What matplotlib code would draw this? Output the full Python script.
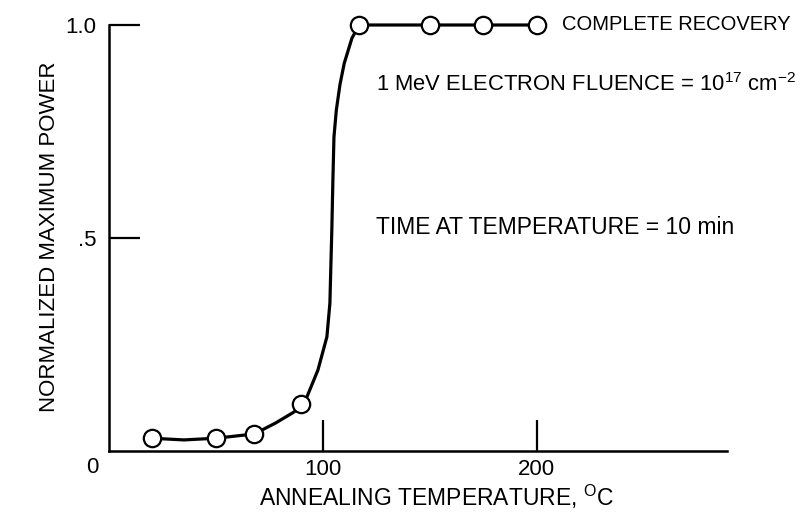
import matplotlib
matplotlib.use('Agg')
import matplotlib.pyplot as plt

# annealing temperature (C) and normalized max power
temps = [20, 50, 68, 90, 117, 150, 175, 200]
power = [0.03, 0.03, 0.04, 0.11, 1.0, 1.0, 1.0, 1.0]

# hand-drawn fairing curve
curve_t = [20, 35, 50, 68, 78, 86, 91, 97.7, 101.9, 103.3, 103.7, 104.2,
           104.7, 105.2, 106.3, 108.0, 110.0, 113.6, 117, 150, 175, 200]
curve_p = [0.03, 0.026, 0.03, 0.04, 0.066, 0.09, 0.108, 0.19, 0.268, 0.347,
           0.425, 0.519, 0.636, 0.737, 0.80, 0.86, 0.91, 0.969, 1.0, 1.0,
           1.0, 1.0]

xticks = [100, 200]
xtick_labels = ['100', '200']
yticks = [0.5, 1.0]
ytick_labels = ['.5', '1.0']

fam = ['Liberation Sans', 'DejaVu Sans']
plt.rcParams['font.family'] = fam
plt.rcParams['mathtext.fontset'] = 'custom'
plt.rcParams['mathtext.rm'] = 'Liberation Sans'
plt.rcParams['mathtext.it'] = 'Liberation Sans'
plt.rcParams['mathtext.default'] = 'rm'
fs = 16

fig = plt.figure(figsize=(8.03, 5.20), dpi=100)
ax = fig.add_axes([109 / 803, 69 / 520, 618 / 803, 426 / 520])

ax.plot(curve_t, curve_p, color='black', lw=2.3, zorder=2, clip_on=False)
ax.plot(temps, power, 'o', ms=12.5, mfc='white', mec='black', mew=1.6,
        zorder=3, clip_on=False)

ax.set_xlim(0, 289)
ax.set_ylim(0, 1.0)
for s in ['top', 'right']:
    ax.spines[s].set_visible(False)
for s in ['left', 'bottom']:
    ax.spines[s].set_linewidth(1.8)

ax.set_xticks(xticks)
ax.set_xticklabels(xtick_labels)
ax.set_yticks(yticks)
ax.set_yticklabels(ytick_labels)
ax.tick_params(axis='both', direction='in', length=22, width=1.6,
               labelsize=fs)
ax.tick_params(axis='x', pad=6)
ax.tick_params(axis='y', pad=9)

ax.text(-8, -0.038, '0', ha='center', va='center', fontsize=fs)

ax.text(212, 1.0, 'COMPLETE RECOVERY', ha='left', va='center', fontsize=14.5)
ax.text(125, 0.86, r'1 MeV ELECTRON FLUENCE = 10$^{17}$ cm$^{-2}$',
        ha='left', va='center', fontsize=15.8)
ax.text(125, 0.525, 'TIME AT TEMPERATURE = 10 min', ha='left', va='center',
        fontsize=16.5)

fig.text(50 / 803, 1 - 237 / 520, 'NORMALIZED MAXIMUM POWER', rotation=90,
         ha='center', va='center', fontsize=16)
fig.text(437 / 803, 1 - 497 / 520, r'ANNEALING TEMPERATURE, $^{\mathrm{O}}$C',
         ha='center', va='center', fontsize=16.5)

fig.savefig('out.png', dpi=100)
